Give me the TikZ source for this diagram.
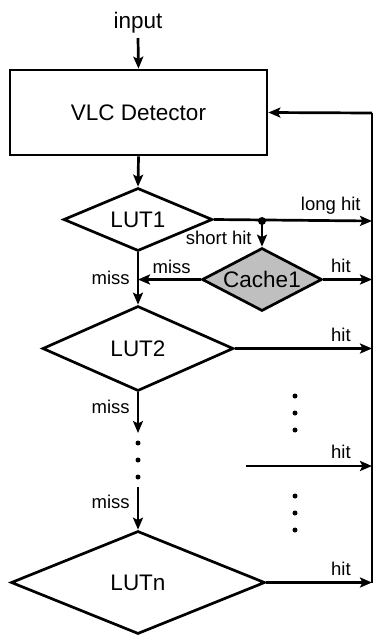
\documentclass[tikz,border=0pt]{standalone}
\usepackage{fontspec}
\setmainfont{Liberation Sans}
\usetikzlibrary{shapes.geometric,arrows.meta}
\begin{document}
\begin{tikzpicture}[x=1pt,y=-1pt,
  line width=2.7pt,
  arr/.style={-{Stealth[length=12pt,width=10pt,inset=2.5pt]}},
  bigtxt/.style={font=\fontsize{22.5}{24}\selectfont},
  smalltxt/.style={font=\fontsize{18.5}{20}\selectfont, inner sep=0pt},
  decision/.style={draw, diamond, inner sep=0pt, bigtxt},
  dotmark/.style={circle, fill, inner sep=0pt, minimum size=5pt},
]
\useasboundingbox (0,0) rectangle (377,635);

% blocks
\node[bigtxt, anchor=base] (in) at (138,28) {input};
\node[draw, bigtxt, minimum width=257pt, minimum height=85pt, inner sep=0pt] (vlc) at (138.5,112.5) {VLC Detector};
\node[decision, aspect=2.37, minimum width=149pt, minimum height=63pt] (lut1) at (138,219.5) {LUT1};
\node[decision, aspect=1.9, minimum width=120pt, minimum height=63pt, fill=gray!50] (cache) at (262,279.5) {Cache1};
\node[decision, aspect=2.25, minimum width=191pt, minimum height=85pt] (lut2) at (138,348.5) {LUT2};
\node[decision, aspect=2.47, minimum width=254pt, minimum height=103pt] (lutn) at (138,582.5) {LUTn};

% return bus on the right
\coordinate (busTop) at (372,113);
\coordinate (busBot) at (372,582.5);
\coordinate (busL1) at (372,221);
\coordinate (busC) at (372,279.5);
\coordinate (busL2) at (372,348.5);
\coordinate (busM) at (372,466);
\coordinate (midStart) at (246,466);
\coordinate (split) at (262,221);
\coordinate (missJoin) at (138,279.5);
\coordinate (dotTop) at (138,433);
\coordinate (dotBot) at (138,487);

\draw (busBot) -- (busTop);
\draw[arr] (busTop) -- (vlc.east);

% main chain
\draw[arr] (138,38) -- (vlc.north);
\draw[arr] (vlc.south) -- (lut1.north);
\draw[arr] (lut1.south) -- (lut2.north);
\draw[arr] (lut2.south) -- (dotTop);
\draw[arr] (dotBot) -- (lutn.north);

% hit paths
\draw[arr] (lut1.east) -- (busL1);
\node[dotmark, minimum size=8pt] (jn) at (split) {};
\draw[arr] (jn.center) -- (cache.north);
\draw[arr] (cache.east) -- (busC);
\draw[arr] (cache.west) -- (missJoin);
\draw[arr] (lut2.east) -- (busL2);
\draw[arr] (midStart) -- (busM);
\draw[arr] (lutn.east) -- (busBot);

% labels
\node[smalltxt, anchor=base east] (lLong) at (362,210) {long hit};
\node[smalltxt, anchor=base east] (lShort) at (253,244) {short hit};
\node[smalltxt, anchor=base east] (hC) at (352,272) {hit};
\node[smalltxt, anchor=base east] (hL2) at (352,341) {hit};
\node[smalltxt, anchor=base east] (hM) at (352,458.5) {hit};
\node[smalltxt, anchor=base east] (hN) at (352,575) {hit};
\node[smalltxt, anchor=base east] (mC) at (192,273) {miss};
\node[smalltxt, anchor=base east] (m1) at (131,284) {miss};
\node[smalltxt, anchor=base east] (m2) at (131,413) {miss};
\node[smalltxt, anchor=base east] (m3) at (131,508) {miss};

% ellipsis dots
\foreach \i/\y in {a/443,b/460,c/477} \node[dotmark] (v\i) at (138,\y) {};
\foreach \i/\y in {a/396,b/413,c/430,d/496,e/513,f/530} \node[dotmark] (r\i) at (295,\y) {};
\end{tikzpicture}
\end{document}
